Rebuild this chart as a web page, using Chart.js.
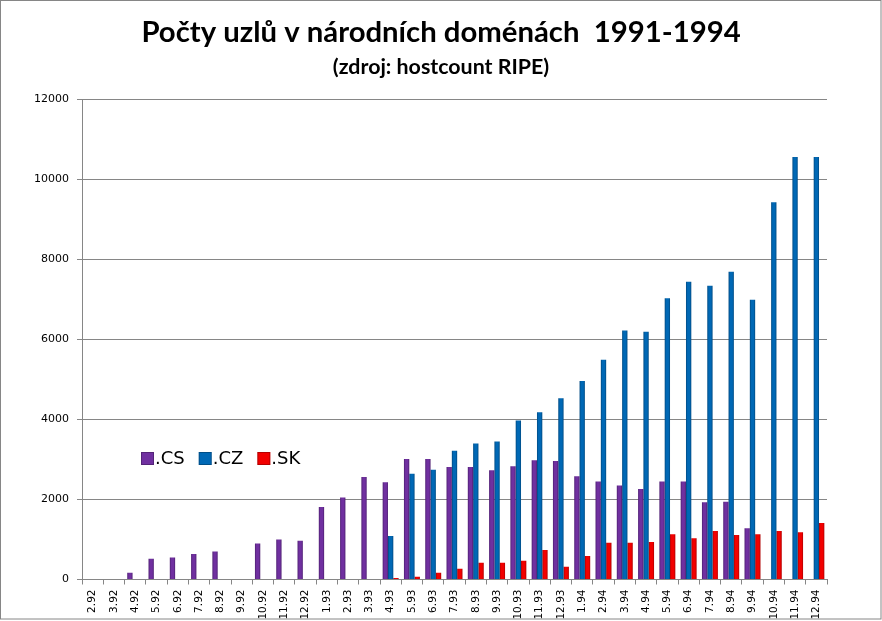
<!DOCTYPE html>
<html>
<head>
<meta charset="utf-8">
<script src="https://cdn.jsdelivr.net/npm/chart.js@4.4.0/dist/chart.umd.min.js"></script>
<style>
  html, body { margin: 0; padding: 0; background: #fff; }
  #wrap { width: 882px; height: 621px; position: relative; }
</style>
</head>
<body>
<div id="wrap"><canvas id="c" width="882" height="621"></canvas></div>
<script>
// ---- data ----
const categories = ['2.92','3.92','4.92','5.92','6.92','7.92','8.92','9.92','10.92','11.92','12.92',
  '1.93','2.93','3.93','4.93','5.93','6.93','7.93','8.93','9.93','10.93','11.93','12.93',
  '1.94','2.94','3.94','4.94','5.94','6.94','7.94','8.94','9.94','10.94','11.94','12.94'];
const csValues = [null,null,170,520,550,640,700,null,900,1000,970,
  1810,2050,2560,2430,3010,3010,2810,2810,2730,2830,2980,2960,
  2580,2450,2350,2260,2450,2450,1930,1940,1280,null,null,null];
const czValues = [null,null,null,null,null,null,null,null,null,null,null,
  null,null,null,1090,2640,2740,3220,3400,3450,3975,4180,4530,
  4960,5490,6220,6190,7030,7440,7340,7690,6990,9430,10560,10560];
const skValues = [null,null,null,null,null,null,null,null,null,null,null,
  null,null,null,40,70,170,270,420,420,470,740,320,
  590,920,920,940,1130,1030,1210,1110,1130,1210,1180,1410];
const seriesNames = ['.CS', '.CZ', '.SK'];
const yTicks = [0, 2000, 4000, 6000, 8000, 10000, 12000];
const titleText = 'Počty uzlů v národních doménách  1991-1994';
const subtitleText = '(zdroj: hostcount RIPE)';

const colors = ['#7030A0', '#0068B5', '#F20000'];
const darkColors = ['#4E1F72', '#004A82', '#B00000'];
const gridColor = '#868686';
const CAT_PCT = 0.75;

function barFill(ctx, i) {
  const chart = ctx.chart;
  const ca = chart.chartArea;
  if (!ca || ctx.type !== 'data' || !chart.scales.x) return colors[i];
  const cw = (ca.right - ca.left) / chart.data.labels.length;
  const gw = cw * CAT_PCT, bw = gw / 3;
  const cx = chart.scales.x.getPixelForValue(ctx.dataIndex);
  const left = cx - gw / 2 + i * bw;
  const g = chart.ctx.createLinearGradient(left, 0, left + bw, 0);
  g.addColorStop(0, darkColors[i]);
  g.addColorStop(0.3, colors[i]);
  g.addColorStop(0.7, colors[i]);
  g.addColorStop(1, darkColors[i]);
  return g;
}

const framePlugin = {
  id: 'frame',
  beforeDraw(chart) {
    const ctx = chart.ctx;
    ctx.save();
    ctx.fillStyle = '#fff';
    ctx.fillRect(0, 0, chart.width, chart.height);
    ctx.restore();
  },
  afterDraw(chart) {
    const ctx = chart.ctx;
    ctx.save();
    ctx.strokeStyle = gridColor;
    ctx.lineWidth = 1;
    ctx.strokeRect(0.5, 0.5, chart.width - 1.5, chart.height - 2.5);
    ctx.restore();
  }
};

const legendPlugin = {
  id: 'innerLegend',
  afterDraw(chart) {
    const ctx = chart.ctx;
    ctx.save();
    ctx.font = '18px "DejaVu Sans"';
    ctx.textBaseline = 'middle';
    ctx.textAlign = 'left';
    const yC = 459;
    let x = 141;
    chart.data.datasets.forEach((ds, i) => {
      ctx.fillStyle = colors[i];
      ctx.fillRect(x, yC - 7, 13, 13);
      ctx.strokeStyle = 'rgba(0,0,0,0.25)';
      ctx.strokeRect(x + 0.5, yC - 6.5, 12, 12);
      ctx.fillStyle = '#000';
      ctx.fillText(ds.label, x + 14, yC);
      x += 14 + ctx.measureText(ds.label).width + 14;
    });
    ctx.restore();
  }
};

const datasets = [csValues, czValues, skValues].map((vals, i) => ({
  label: seriesNames[i],
  data: vals,
  backgroundColor: (ctx) => barFill(ctx, i),
  borderWidth: 0,
  categoryPercentage: CAT_PCT,
  barPercentage: 1.0,
  yAxisID: 'y'
}));

new Chart(document.getElementById('c'), {
  type: 'bar',
  data: { labels: categories, datasets },
  options: {
    responsive: false,
    animation: false,
    devicePixelRatio: 1,
    layout: { padding: 0 },
    plugins: {
      legend: { display: false },
      tooltip: { enabled: false },
      title: {
        display: true, text: titleText, color: '#000',
        font: { family: 'Lato', size: 29.3, weight: 'bold' },
        padding: { top: 15, bottom: 0 }
      },
      subtitle: {
        display: true, text: subtitleText, color: '#000',
        font: { family: 'Lato', size: 21.4, weight: 'bold' },
        padding: { top: 4, bottom: 19.5 }
      }
    },
    scales: {
      x: {
        grid: { display: true, drawOnChartArea: false, color: gridColor, tickLength: 5, offset: true },
        border: { color: gridColor },
        ticks: {
          color: '#000', minRotation: 90, maxRotation: 90, autoSkip: false, padding: 5,
          font: { family: 'DejaVu Sans', size: 10.5 }
        },
        afterFit(s) { s.height = 41.5; }
      },
      y: {
        min: 0, max: 12000,
        afterBuildTicks(s) { s.ticks = yTicks.map(v => ({ value: v })); },
        grid: { color: gridColor, tickLength: 5 },
        border: { color: gridColor },
        ticks: {
          color: '#000', padding: 8, font: { family: 'DejaVu Sans', size: 11 },
          callback: v => String(v)
        },
        afterFit(s) { s.width = 82; }
      },
      spacer: {
        type: 'linear', position: 'right', display: true,
        grid: { display: false, drawTicks: false },
        border: { display: false },
        ticks: { display: false },
        afterFit(s) { s.width = 55; }
      }
    }
  },
  plugins: [framePlugin, legendPlugin]
});
</script>
</body>
</html>
